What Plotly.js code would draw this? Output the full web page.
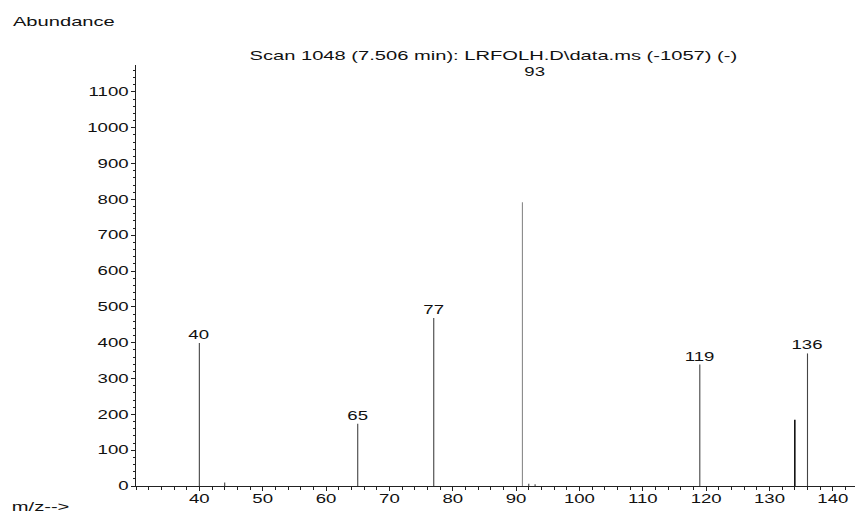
<!DOCTYPE html>
<html>
<head>
<meta charset="utf-8">
<script src="https://cdn.plot.ly/plotly-3.0.1.min.js"></script>
<style>
html,body{margin:0;padding:0;background:#fff;}
#chart{width:866px;height:523px;}
</style>
</head>
<body>
<div id="chart"></div>
<script>
// m/z values and abundances
const mz        = [40, 44, 65, 77, 91, 92, 93, 119, 134, 136];
const abundance = [399, 10, 174, 469, 792, 6, 5, 339, 185, 370];
// labelled peaks
const labelMz   = [40, 65, 77, 119, 136];
const labelAb   = [399, 174, 469, 339, 370];
const labelText = ["40", "65", "77", "119", "136"];
const topLabelMz = 93;
const topLabelText = "93";
const xTickVals = [40, 50, 60, 70, 80, 90, 100, 110, 120, 130, 140];
const yTickVals = [0, 100, 200, 300, 400, 500, 600, 700, 800, 900, 1000, 1100];

const lineColors = {91: "#8a8a8a", 134: "#111"};
const traces = mz.map((m, i) => ({
  x: [m, m], y: [0, abundance[i]], type: "scatter", mode: "lines",
  line: {color: lineColors[m] || "#444", width: m === 134 ? 1.6 : 1.1},
  hoverinfo: "skip", showlegend: false
}));

const font = {family: "Liberation Sans, Arial, sans-serif", size: 12, color: "#111"};
const bigFont = {family: "Liberation Sans, Arial, sans-serif", size: 13, color: "#111"};

const annotations = labelMz.map((m, i) => ({
  x: m, y: labelAb[i], xref: "x", yref: "y", text: labelText[i],
  showarrow: false, yanchor: "bottom", yshift: -1, font: font
}));
annotations.push({x: topLabelMz, y: 1155, xref: "x", yref: "y", text: topLabelText,
  showarrow: false, yanchor: "middle", font: font});
annotations.push({x: -0.1005, y: 1.104, xref: "paper", yref: "paper", text: "Abundance",
  showarrow: false, xanchor: "center", yanchor: "middle", font: bigFont});
annotations.push({x: -0.1335, y: -0.048, xref: "paper", yref: "paper", text: "m/z-->",
  showarrow: false, xanchor: "center", yanchor: "middle", font: bigFont});

const layout = {
  width: 866, height: 523,
  margin: {l: 136, r: 11, t: 65, b: 37},
  paper_bgcolor: "#fff", plot_bgcolor: "#fff",
  font: font,
  title: {text: "Scan 1048 (7.506 min): LRFOLH.D\\data.ms (-1057) (-)", font: bigFont,
    x: 0.497, xref: "paper", y: 1 - 55/523, yref: "container", yanchor: "middle"},
  xaxis: {range: [30, 143.5], tickvals: xTickVals, ticks: "outside", ticklen: 4,
    tickcolor: "#222", showline: true, linecolor: "#222", linewidth: 1,
    showgrid: false, zeroline: false, tickfont: font, ticklabelstandoff: -2,
    minor: {dtick: 2, tick0: 0, ticks: "outside", ticklen: 3, tickcolor: "#222", showgrid: false}},
  yaxis: {range: [0, 1175], tickvals: yTickVals, ticks: "outside", ticklen: 4,
    tickcolor: "#222", showline: true, linecolor: "#222", linewidth: 1,
    showgrid: false, zeroline: false, tickfont: font,
    minor: {dtick: 20, tick0: 0, ticks: "outside", ticklen: 2, tickcolor: "#222", showgrid: false}},
  annotations: annotations
};

// the reference typeface is horizontally wide: stretch each text about its anchor point
const STRETCH = 1.55;
Plotly.newPlot("chart", traces, layout, {displayModeBar: false, staticPlot: true}).then(gd => {
  gd.querySelectorAll("svg text").forEach(t => {
    const x = parseFloat(t.getAttribute("x")) || 0;
    const y = parseFloat(t.getAttribute("y")) || 0;
    const prev = t.getAttribute("transform") || "";
    t.setAttribute("transform", prev + " translate(" + x + "," + y + ") scale(" + STRETCH + ",1) translate(" + (-x) + "," + (-y) + ")");
  });
});
</script>
</body>
</html>
